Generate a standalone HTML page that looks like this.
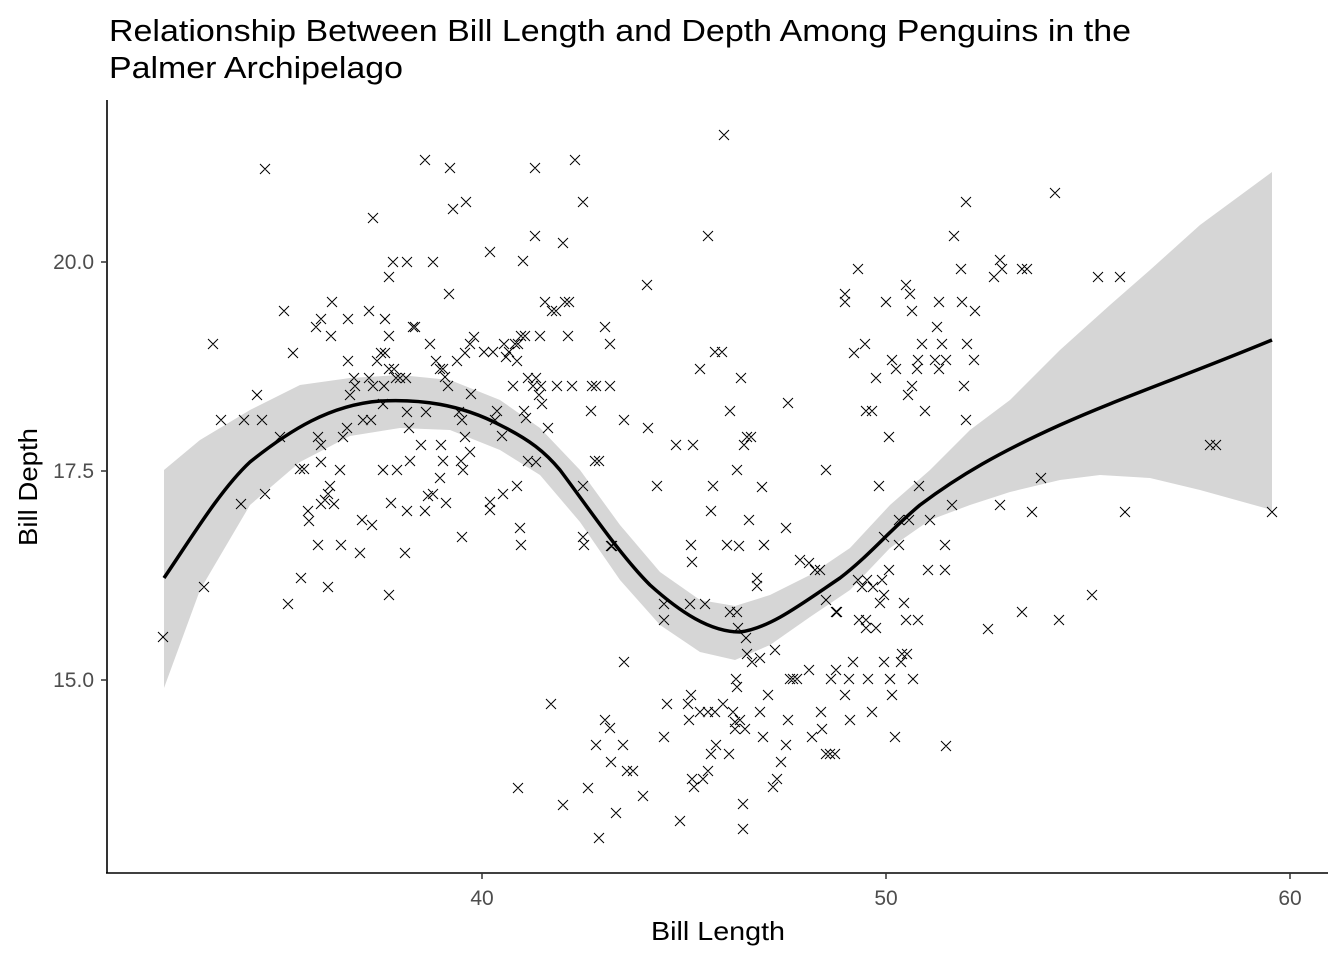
<!DOCTYPE html>
<html><head><meta charset="utf-8"><style>
html,body{margin:0;padding:0;background:#fff;}
svg{display:block;font-family:"Liberation Sans",Arial,sans-serif;}
</style></head><body>
<svg id="s" width="1344" height="960" viewBox="0 0 1344 960" xmlns="http://www.w3.org/2000/svg">
<rect width="1344" height="960" fill="#fff"/>
<text x="109" y="41" font-size="31" fill="#000" textLength="1022" lengthAdjust="spacingAndGlyphs">Relationship Between Bill Length and Depth Among Penguins in the</text>
<text x="109" y="78" font-size="31" fill="#000" textLength="294" lengthAdjust="spacingAndGlyphs">Palmer Archipelago</text>
<path d="M164,470 L200,440 L250,410 L300,385 L350,378 L400,375 L450,380 L500,400 L540,428 L580,470 L620,525 L660,572 L700,600 L735,606 L770,595 L810,575 L850,548 L890,505 L930,470 L970,430 L1010,400 L1060,350 L1110,305 L1150,270 L1200,225 L1272,172 L1272,510 L1200,490 L1150,478 L1100,475 L1060,480 L1010,492 L970,505 L930,520 L890,548 L850,590 L810,617 L770,645 L735,660 L700,652 L660,625 L620,580 L580,522 L540,475 L500,450 L450,430 L400,428 L350,436 L300,462 L250,505 L200,590 L164,688 Z" fill="#d6d6d6"/>
<path id="pts" d="" stroke="#000" stroke-width="1" fill="none"/>
<path d="M164,578 C190,540 220,490 250,462 C290,430 330,405 380,401 C420,399 460,404 500,425 C530,440 545,452 560,470 C590,510 620,555 650,585 C680,612 710,632 740,632 C770,628 800,605 840,578 C870,555 890,530 920,505 C960,475 1000,452 1060,425 C1120,398 1180,378 1272,340" stroke="#000" stroke-width="3.5" fill="none"/>
<line x1="107" y1="100" x2="107" y2="873" stroke="#000" stroke-width="1.6"/>
<line x1="106" y1="873" x2="1328" y2="873" stroke="#000" stroke-width="1.6"/>
<g stroke="#333" stroke-width="1.5">
<line x1="482" y1="873" x2="482" y2="879"/><line x1="886" y1="873" x2="886" y2="879"/><line x1="1290" y1="873" x2="1290" y2="879"/>
<line x1="101" y1="262" x2="107" y2="262"/><line x1="101" y1="471" x2="107" y2="471"/><line x1="101" y1="680" x2="107" y2="680"/>
</g>
<g font-size="21" fill="#4d4d4d" text-anchor="middle">
<text x="482" y="905">40</text><text x="886" y="905">50</text><text x="1290" y="905">60</text>
</g>
<g font-size="21" fill="#4d4d4d" text-anchor="end">
<text x="94" y="269">20.0</text><text x="94" y="478">17.5</text><text x="94" y="687">15.0</text>
</g>
<text x="651" y="940" font-size="26" fill="#000" textLength="134" lengthAdjust="spacingAndGlyphs">Bill Length</text>
<text transform="translate(37,546) rotate(-90)" font-size="26" fill="#000" textLength="118" lengthAdjust="spacingAndGlyphs">Bill Depth</text>
</svg>
<script>
var P=[[724,135],[265,169],[425,160],[450,168],[575,160],[535,168],[1055,193],[466,202],[583,202],[453,209],[373,218],[966,202],[490,252],[535,236],[563,243],[708,236],[954,236],[523,261],[393,262],[407,262],[433,262],[1000,260],[1027,269],[994,277],[1120,277],[389,277],[284,311],[332,302],[321,319],[348,319],[369,311],[385,319],[415,327],[449,294],[545,302],[556,311],[569,302],[540,336],[605,327],[610,344],[647,285],[845,294],[845,302],[858,269],[886,302],[910,294],[906,285],[912,311],[939,302],[962,302],[961,269],[213,344],[293,353],[221,420],[244,420],[257,395],[262,420],[265,494],[241,504],[204,587],[163,637],[280,437],[300,469],[304,469],[308,511],[309,521],[288,604],[301,578],[316,327],[331,336],[318,437],[321,445],[321,462],[321,504],[318,545],[328,587],[330,486],[340,470],[341,545],[325,500],[328,494],[334,504],[347,428],[343,437],[350,395],[348,361],[354,378],[355,386],[363,420],[362,520],[360,553],[369,378],[373,386],[371,420],[372,525],[377,361],[385,353],[384,386],[383,404],[383,470],[381,353],[389,336],[389,369],[389,595],[391,503],[394,369],[396,378],[397,470],[400,378],[405,553],[407,412],[409,428],[406,378],[407,511],[410,461],[413,327],[421,445],[425,511],[426,412],[428,496],[430,344],[433,494],[436,361],[440,369],[440,478],[443,369],[441,445],[443,461],[445,377],[448,386],[446,503],[457,361],[459,412],[461,461],[462,420],[463,470],[462,537],[465,437],[465,353],[470,344],[471,394],[474,337],[470,452],[484,352],[490,502],[490,510],[493,352],[495,420],[497,411],[502,436],[503,494],[504,344],[506,357],[509,352],[513,386],[515,344],[517,361],[518,344],[517,486],[520,528],[521,336],[521,545],[524,411],[525,336],[526,418],[528,461],[528,378],[533,386],[536,378],[539,395],[541,386],[542,404],[536,462],[548,428],[552,311],[557,386],[565,302],[568,336],[572,386],[583,486],[583,537],[591,411],[592,386],[596,386],[595,461],[599,461],[610,386],[611,546],[624,420],[648,428],[657,486],[676,445],[691,545],[692,562],[693,445],[700,369],[711,511],[713,486],[715,352],[722,352],[730,411],[737,470],[741,378],[744,445],[747,437],[751,437],[757,586],[762,487],[764,545],[788,403],[786,528],[826,470],[809,563],[820,570],[854,353],[865,344],[866,411],[872,411],[876,378],[879,486],[889,437],[892,360],[896,369],[908,395],[912,386],[917,369],[919,486],[918,360],[925,411],[922,344],[937,327],[935,360],[939,369],[942,344],[946,360],[966,420],[964,386],[967,344],[974,360],[975,311],[1002,269],[1022,269],[1098,277],[1210,445],[1272,512],[1125,512],[1032,512],[551,704],[518,788],[563,805],[599,838],[588,788],[596,745],[605,720],[610,728],[611,762],[616,813],[623,745],[627,771],[633,771],[643,796],[624,662],[664,620],[664,737],[667,704],[680,821],[688,704],[691,695],[692,779],[689,720],[694,787],[703,779],[708,771],[711,754],[700,712],[708,712],[716,745],[715,712],[723,704],[729,754],[733,712],[735,729],[736,679],[737,687],[735,722],[743,829],[740,720],[743,804],[745,729],[752,662],[760,712],[763,737],[768,695],[773,787],[777,779],[781,762],[788,720],[786,745],[790,679],[793,679],[797,679],[809,670],[812,737],[821,712],[822,729],[826,754],[830,754],[835,754],[831,679],[836,670],[845,695],[849,679],[853,662],[868,679],[872,712],[884,662],[890,679],[895,737],[902,654],[907,654],[913,679],[850,720],[866,620],[866,628],[876,628],[859,620],[884,595],[836,612],[862,587],[873,587],[880,603],[889,570],[904,603],[906,620],[918,620],[928,570],[945,570],[892,695],[901,662],[1022,612],[1059,620],[1092,595],[988,629],[946,746],[730,612],[737,612],[738,628],[746,638],[775,650],[747,654],[760,658],[664,604],[690,604],[705,604],[584,545],[612,546],[727,545],[739,546],[749,520],[757,578],[800,560],[815,570],[826,600],[837,612],[858,580],[867,580],[882,580],[884,537],[899,545],[899,520],[909,520],[930,520],[945,545],[1000,505],[1041,478],[952,505],[1216,445]];
var d="";P.forEach(function(p){var x=p[0],y=p[1];d+="M"+(x-5)+","+(y-5)+"L"+(x+5)+","+(y+5)+"M"+(x-5)+","+(y+5)+"L"+(x+5)+","+(y-5);});
document.getElementById("pts").setAttribute("d",d);
</script>
</body></html>
